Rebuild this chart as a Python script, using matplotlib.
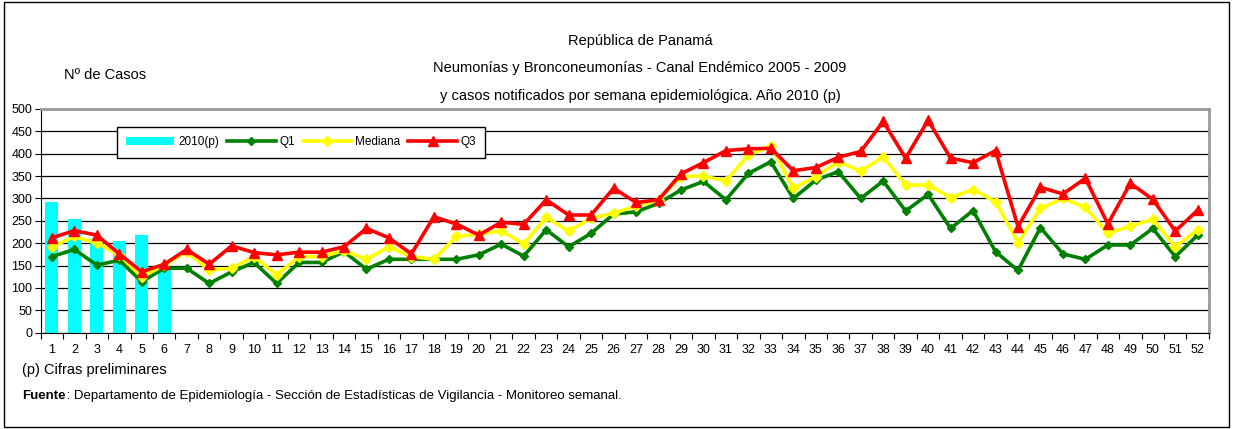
import matplotlib
matplotlib.use("Agg")
import matplotlib.pyplot as plt
from matplotlib.patches import Rectangle

plt.rcParams['font.family'] = ['Liberation Sans Narrow', 'Liberation Sans', 'DejaVu Sans']

#########################################################
# data
weeks = list(range(1, 53))
cases_2010 = [292, 255, 210, 204, 219, 145]

q1 = [170, 186, 151, 162, 114, 144, 144, 110, 136, 157, 110, 157, 157, 181, 142, 164,
      164, 164, 164, 174, 198, 171, 230, 192, 222, 265, 270, 289, 319, 338, 297, 356,
      382, 300, 341, 360, 300, 339, 272, 309, 233, 273, 181, 139, 235, 176, 164, 196,
      196, 233, 170, 218]
mediana = [192, 215, 200, 174, 125, 151, 181, 140, 144, 170, 129, 170, 170, 183, 164, 192,
           170, 164, 215, 220, 228, 198, 258, 227, 256, 267, 283, 297, 349, 350, 339, 397,
           417, 323, 349, 382, 361, 393, 330, 330, 302, 320, 293, 201, 278, 300, 280, 222,
           238, 253, 192, 230]
q3 = [212, 228, 218, 176, 136, 153, 186, 153, 194, 179, 174, 180, 180, 192, 233, 212,
      176, 259, 243, 218, 247, 242, 297, 263, 263, 323, 291, 297, 355, 380, 407, 411,
      412, 362, 369, 392, 405, 472, 390, 475, 390, 380, 407, 237, 325, 310, 345, 243,
      334, 298, 227, 274]

title_lines = ["República de Panamá",
               "Neumonías y Bronconeumonías - Canal Endémico 2005 - 2009",
               "y casos notificados por semana epidemiológica. Año 2010 (p)"]

#########################################################
fig = plt.figure(figsize=(12.33, 4.29), dpi=100)
ax = fig.add_axes([0.033, 0.2245, 0.9475, 0.5215])

bars = ax.bar(weeks[:len(cases_2010)], cases_2010, width=0.58, color='#00FFFF', label='2010(p)', zorder=2)
l1, = ax.plot(weeks, q1, color='#008000', lw=2.6, marker='D', ms=4.5, label='Q1', zorder=3)
l2, = ax.plot(weeks, mediana, color='#FFFF00', lw=2.6, marker='D', ms=5, label='Mediana', zorder=4)
l3, = ax.plot(weeks, q3, color='#FF0000', lw=2.6, marker='^', ms=7, label='Q3', zorder=5)

ax.set_xlim(0.5, 52.5)
ax.set_ylim(0, 500)
ax.set_yticks(range(0, 501, 50))
ax.yaxis.grid(True, color='black', lw=0.9, zorder=0)
ax.set_axisbelow(True)

ax.set_xticks([w - 0.5 for w in weeks] + [52.5])
ax.set_xticklabels([])
ax.set_xticks(weeks, minor=True)
ax.set_xticklabels([str(w) for w in weeks], minor=True, fontsize=9)
ax.tick_params(axis='x', which='major', direction='out', length=4, color='black')
ax.tick_params(axis='x', which='minor', length=0, pad=8)
ax.tick_params(axis='y', direction='out', length=4, labelsize=9, pad=2)

for side in ['top', 'right']:
    ax.spines[side].set_color('#999999')
    ax.spines[side].set_linewidth(2)
ax.spines['left'].set_color('black')
ax.spines['bottom'].set_color('black')

ax.legend([bars, l1, l2, l3], ['2010(p)', 'Q1', 'Mediana', 'Q3'],
          loc='upper left', bbox_to_anchor=(0.065, 0.92), ncol=4, fontsize=8.5,
          frameon=True, fancybox=False, edgecolor='black', framealpha=1,
          handlelength=4.1, handletextpad=0.3, columnspacing=0.7, borderaxespad=0,
          borderpad=0.8)

# titles and notes
for i, line in enumerate(title_lines):
    fig.text(0.519, 0.905 - i * 0.064, line, ha='center', va='center', fontsize=10.5)
fig.text(0.052, 0.825, "Nº de Casos", ha='left', va='center', fontsize=10.5)
fig.text(0.018, 0.137, "(p) Cifras preliminares", ha='left', va='center', fontsize=10.5)
fig.text(0.018, 0.077, "Fuente", ha='left', va='center', fontsize=9.5, fontweight='bold')
fig.text(0.051, 0.077, " : Departamento de Epidemiología - Sección de Estadísticas de Vigilancia - Monitoreo semanal.",
         ha='left', va='center', fontsize=9.5)

fig.patches.append(Rectangle((0.003, 0.004), 0.994, 0.992, transform=fig.transFigure,
                             fill=False, edgecolor='black', lw=1))

fig.savefig('out.png', dpi=100)
